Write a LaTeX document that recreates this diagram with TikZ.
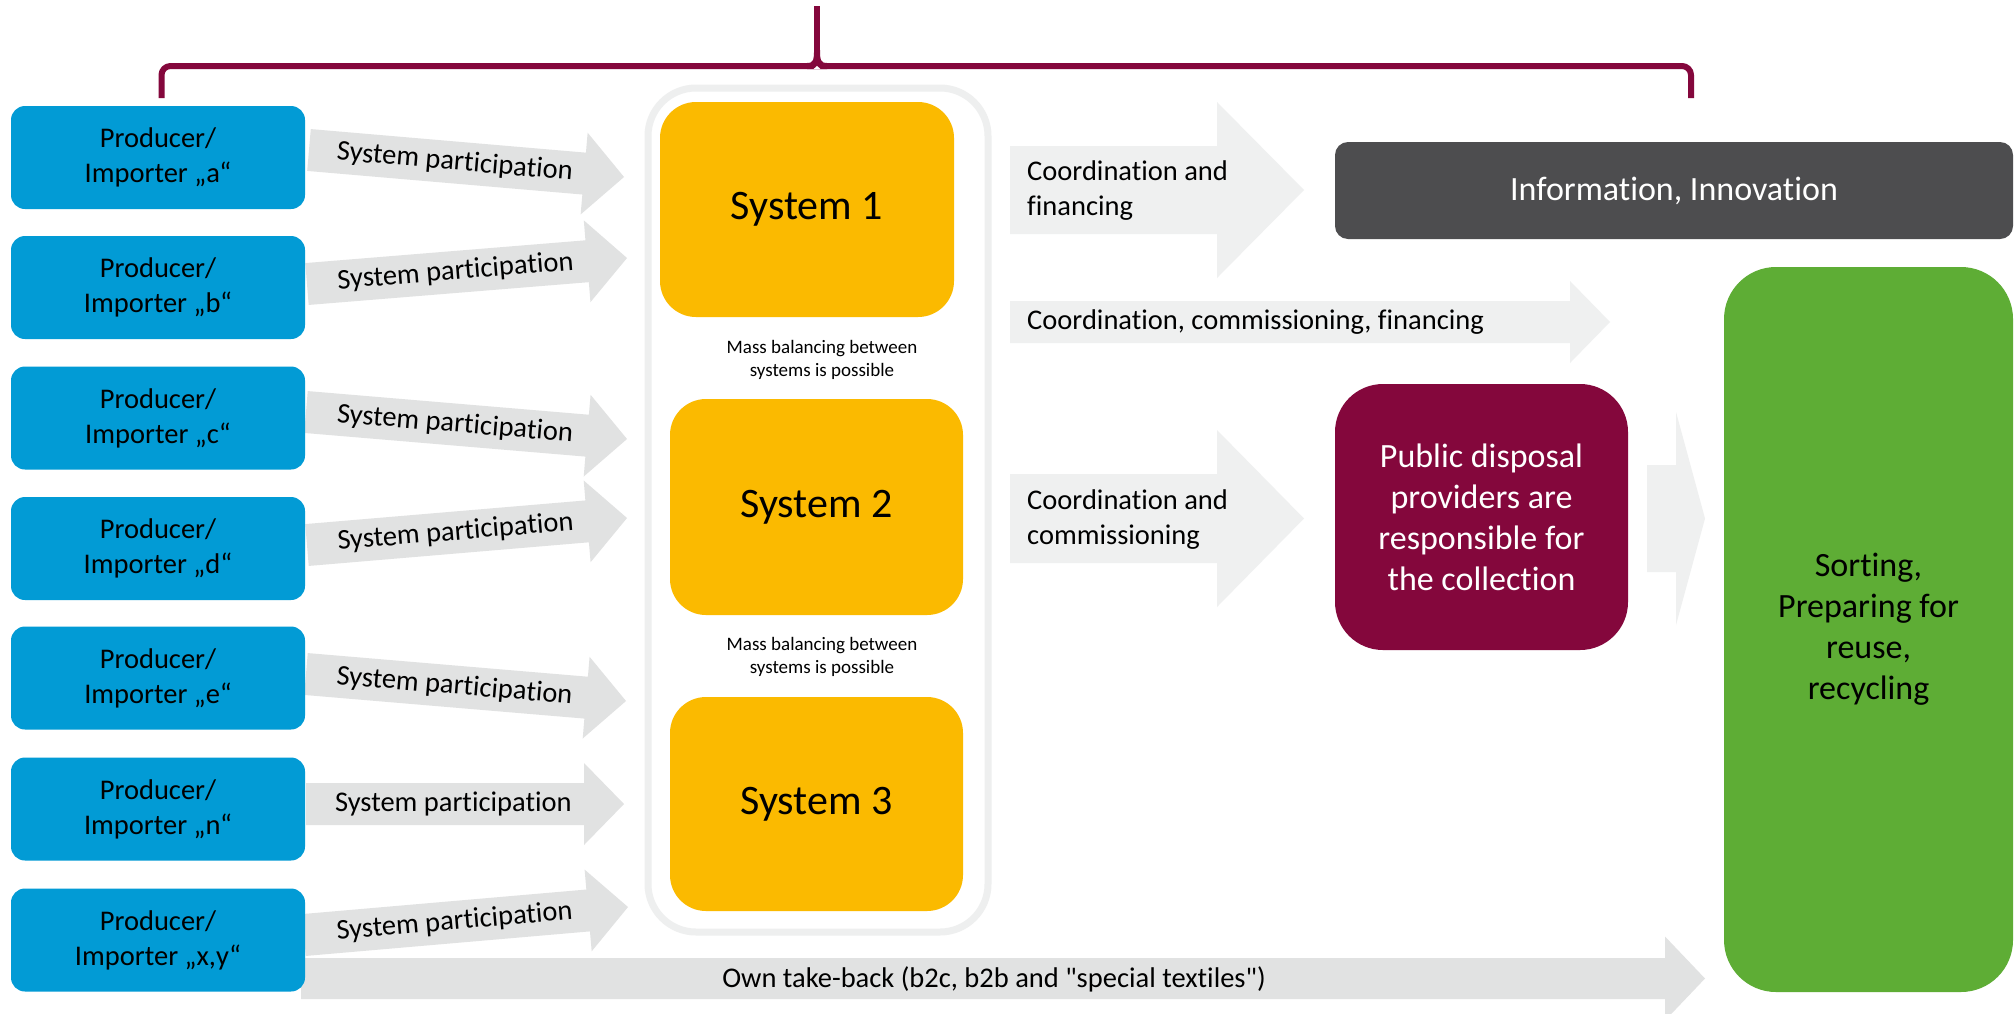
\documentclass[tikz,border=0pt]{standalone}
\usepackage{fontspec}
\setmainfont{Carlito}[Ligatures=NoCommon]
\newfontfamily\plainfont{Carlito}[Ligatures=NoCommon]
\usetikzlibrary{calc,backgrounds}

\definecolor{prodblue}{HTML}{029BD5}
\definecolor{sysyellow}{HTML}{FBBA00}
\definecolor{wine}{HTML}{84073C}
\definecolor{infogray}{HTML}{4D4D4F}
\definecolor{sortgreen}{HTML}{5EAD35}
\definecolor{flowgray}{HTML}{E1E2E2}
\definecolor{flowpale}{HTML}{EFF0F0}
\definecolor{framegray}{HTML}{EEEFEF}

% block arrow: #1 colour, #2 tail, #3 tip, #4 shaft half-width, #5 head half-width, #6 head length
\newcommand\flowarrow[6]{%
  \coordinate (#3-hb) at ($(#3)!#6pt!(#2)$);
  \fill[#1] ($(#2)!#4pt!90:(#3)$) -- ($(#3-hb)!#4pt!-90:(#2)$) -- ($(#3-hb)!#5pt!-90:(#2)$)
    -- (#3) -- ($(#3-hb)!#5pt!90:(#2)$) -- ($(#3-hb)!#4pt!90:(#2)$) -- ($(#2)!#4pt!-90:(#3)$) -- cycle;
}

\begin{document}
\begin{tikzpicture}[x=1pt,y=-1pt,
  txt/.style={font=\fontsize{28.5}{35}\selectfont},
  bigtxt/.style={font=\fontsize{34}{41}\selectfont},
  prodbox/.style={txt,fill=prodblue,rounded corners=14,minimum width=294,minimum height=103,inner sep=0,align=center},
  sysbox/.style={fill=sysyellow,rounded corners=36,minimum width=294,minimum height=215,inner sep=0,font=\fontsize{42}{50}\selectfont},
  container/.style={draw=framegray,line width=7,rounded corners=48,minimum width=340,minimum height=844,inner sep=0},
  masstxt/.style={font=\fontsize{19}{23}\selectfont,align=center},
  flowtext/.style={txt,inner sep=0},
  sidetext/.style={txt,inner sep=0,anchor=west,align=left},
  brace/.style={draw=wine,line width=6,line cap=butt,line join=round}
]
\useasboundingbox (0,0) rectangle (2015,1013);

% producers / importers
\node[prodbox] (pa) at (158,157.5) {Producer/\\Importer „a“};
\node[prodbox] (pb) at (158,287.5) {Producer/\\Importer „b“};
\node[prodbox] (pc) at (158,418)   {Producer/\\Importer „c“};
\node[prodbox] (pd) at (158,548.5) {Producer/\\Importer „d“};
\node[prodbox] (pe) at (158,678)   {Producer/\\Importer „e“};
\node[prodbox] (pn) at (158,809)   {Producer/\\Importer „n“};
\node[prodbox] (pxy) at (158,940)  {Producer/\\Importer „x,y“};

% systems inside their common frame
\node[container] (cont) at (818,510) {};
\node[sysbox] (s1) at (807,209.5) {System 1};
\node[sysbox,minimum width=293,minimum height=216] (s2) at (816.5,507) {System 2};
\node[sysbox,minimum width=293,minimum height=214] (s3) at (816.5,804) {System 3};
\node[masstxt] (mb1) at (822,360) {Mass balancing between\\systems is possible};
\node[masstxt] (mb2) at (822,657) {Mass balancing between\\systems is possible};

% right-hand side
\node[bigtxt,fill=infogray,text=white,rounded corners=13,minimum width=678,minimum height=97,inner sep=0] (info) at (1674,190.5) {Information, Innovation};
\node[bigtxt,fill=wine,text=white,rounded corners=48,minimum width=293,minimum height=266,inner sep=0,align=center] (pub) at (1481.5,517) {Public disposal\\providers are\\responsible for\\the collection};
\node[bigtxt,fill=sortgreen,rounded corners=52,minimum width=289,minimum height=725,inner sep=0,align=center] (sort) at (1868.5,629.5) {Sorting,\\Preparing for\\reuse,\\recycling};

% arrow end points
\coordinate (ta) at (309,150);  \coordinate (ha) at (624,177);
\coordinate (tb) at (307,284);  \coordinate (hb) at (627,258);
\coordinate (tc) at (306,412);  \coordinate (hc) at (627,439);
\coordinate (td) at (307,545);  \coordinate (hd) at (627,518);
\coordinate (te) at (306,674);  \coordinate (he) at (626,701);
\coordinate (tn) at (306,804);  \coordinate (hn) at (624,804);
\coordinate (txy) at (304,935); \coordinate (hxy) at (628,907);
\coordinate (tfin) at (1010,190);    \coordinate (hfin) at (1304,190);
\coordinate (tcom) at (1010,322);    \coordinate (hcom) at (1610,322);
\coordinate (tcol) at (1010,518.5);  \coordinate (hcol) at (1304,518.5);
\coordinate (tpub) at (1647,518.5);  \coordinate (hpub) at (1705,518.5);
\coordinate (town) at (301,978.5);   \coordinate (hown) at (1705,978.5);

\begin{scope}[on background layer]
  \fill[white] (0,0) rectangle (2015,1013);
  \foreach \k in {a,b,c,d,e,n,xy}{
    \flowarrow{flowgray}{t\k}{h\k}{21}{41}{40}
    \path (t\k) -- (h\k-hb) node[flowtext,pos=.53,sloped] (lbl\k) {System participation};
  }
  \flowarrow{flowpale}{tfin}{hfin}{44}{88}{87}
  \flowarrow{flowpale}{tcom}{hcom}{21}{41}{40}
  \flowarrow{flowpale}{tcol}{hcol}{44.5}{88.5}{87}
  \flowarrow{flowpale}{tpub}{hpub}{53.5}{106.5}{29}
  \flowarrow{flowgray}{town}{hown}{20.5}{42}{40}
\end{scope}

\node[sidetext] (lfin) at (1027,190.5) {Coordination and\\financing};
\node[sidetext] (lcom) at (1027,322) {Coordination, commissioning, financing};
\node[sidetext] (lcol) at (1027,519.5) {Coordination and\\commissioning};
\node[flowtext,font=\plainfont\fontsize{28.5}{35}\selectfont] (lown) at (994,979) {Own take-back (b2c, b2b and "special textiles")};

% bracket over the systems
\draw[brace,rounded corners=9] (161.5,98) -- (161.5,66) -- (1691,66) -- (1691,98);
\draw[brace] (817,6) -- (817,54);
\fill[wine] (807,63) .. controls (814,63) and (814,59) .. (814,50) -- (820,50)
  .. controls (820,59) and (820,63) .. (827,63) -- (827,69) -- (807,69) -- cycle;
\fill[white] (813.5,69.2) -- (817,65.8) -- (820.5,69.2) -- cycle;
\end{tikzpicture}
\end{document}
